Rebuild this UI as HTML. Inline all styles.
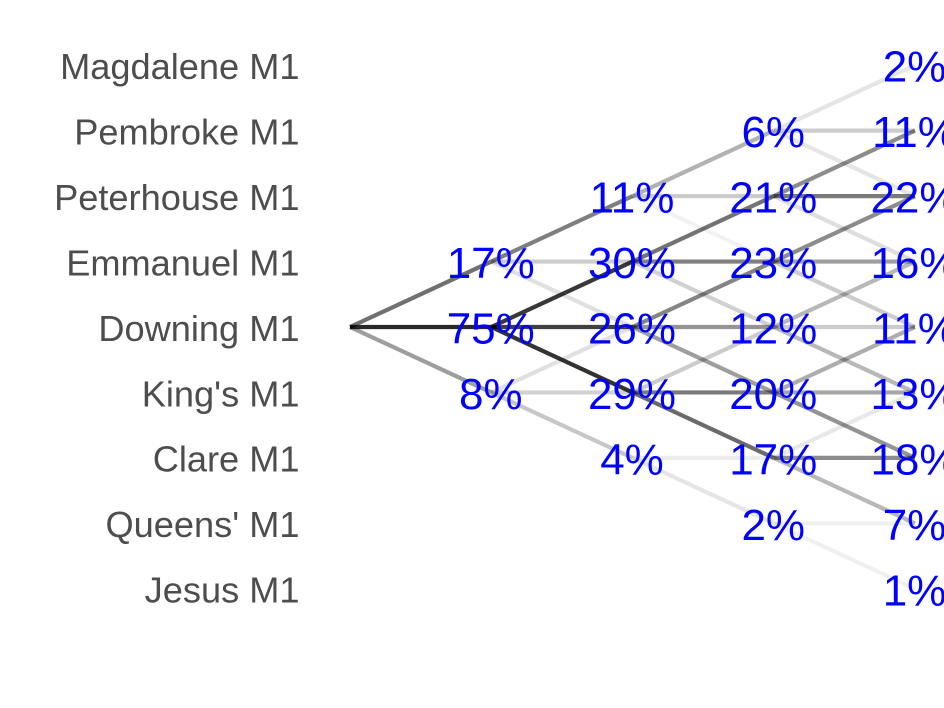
<!DOCTYPE html>
<html lang="en">
<head>
<meta charset="utf-8">
<title>Bumps forecast tree</title>
<style>
html,body{margin:0;padding:0;background:#fff;width:944px;height:708px;overflow:hidden}
svg{display:block;font-family:"Liberation Sans",Arial,sans-serif}
</style>
</head>
<body>
<svg id="chart" xmlns="http://www.w3.org/2000/svg" width="944" height="708" viewBox="0 0 944 708">
<rect width="944" height="708" fill="#ffffff"/>
<g id="edges"></g>
<g id="axis"></g>
<g id="values"></g>
</svg>
<script>
const crews = ["Magdalene M1","Pembroke M1","Peterhouse M1","Emmanuel M1","Downing M1","King's M1","Clare M1","Queens' M1","Jesus M1"];

// Printed chance per crew at each stage (null: no node)
const stage1Pct = [null,null,null,17,75,8,null,null,null];
const stage2Pct = [null,null,11,30,26,29,4,null,null];
const stage3Pct = [null,6,21,23,12,20,17,2,null];
const stage4Pct = [2,11,22,16,11,13,18,7,1];

// Edge strength (0-1 darkness) leaving each crew row: one place up, same place, one place down
const step0Up   = [0,0,0,0,.56,0,0,0,0];
const step0Same = [0,0,0,0,.84,0,0,0,0];
const step0Down = [0,0,0,0,.38,0,0,0,0];

const step1Up   = [0,0,0,.5,.78,.12,0,0,0];
const step1Same = [0,0,0,.2,.75,.18,0,0,0];
const step1Down = [0,0,0,.12,.8,.22,0,0,0];

const step2Up   = [0,0,.3,.55,.48,.2,0,0,0];
const step2Same = [0,0,.2,.5,.42,.52,.07,0,0];
const step2Down = [0,0,.05,.18,.38,.58,.1,0,0];

const step3Up   = [0,.1,.45,.45,.28,.32,.09,0,0];
const step3Same = [0,.2,.52,.38,.2,.35,.45,.06,0];
const step3Down = [0,.1,.13,.2,.28,.42,.28,.06,0];

const stageValues = [stage1Pct,stage2Pct,stage3Pct,stage4Pct];
const stepUp = [step0Up,step1Up,step2Up,step3Up];
const stepSame = [step0Same,step1Same,step2Same,step3Same];
const stepDown = [step0Down,step1Down,step2Down,step3Down];

const NS = "http://www.w3.org/2000/svg";
const stageAxis = s => 350 + s * 141.25;
const crewAxis = r => 327 - (4 - r) * 65.45;

const edgeLayer = document.getElementById("edges");
const axisLayer = document.getElementById("axis");
const valueLayer = document.getElementById("values");

function drawEdge(stage, fromRow, toRow, strength) {
  if (!strength) return;
  const el = document.createElementNS(NS, "line");
  
  
  el.setAttribute("x1", stageAxis(stage));
  el.setAttribute("y1", crewAxis(fromRow));
  el.setAttribute("x2", stageAxis(stage + 1));
  el.setAttribute("y2", crewAxis(toRow));
  el.setAttribute("stroke", "#000");
  el.setAttribute("stroke-opacity", strength);
  el.setAttribute("stroke-width", "4.2");
  edgeLayer.appendChild(el);
}

stepUp.forEach((up, s) => {
  crews.forEach((c, r) => {
    drawEdge(s, r, r - 1, up[r]);
    drawEdge(s, r, r, stepSame[s][r]);
    drawEdge(s, r, r + 1, stepDown[s][r]);
  });
});

crews.forEach((name, r) => {
  const el = document.createElementNS(NS, "text");
  
  
  el.setAttribute("x", 299.5);
  el.setAttribute("y", crewAxis(r) + 13.8);
  el.setAttribute("text-anchor", "end");
  el.setAttribute("font-size", "36.2");
  el.setAttribute("fill", "#4d4d4d");
  el.textContent = name;
  axisLayer.appendChild(el);
});

stageValues.forEach((vals, s) => {
  vals.forEach((v, r) => {
    if (v === null) return;
    const el = document.createElementNS(NS, "text");
    
    
    el.setAttribute("x", stageAxis(s + 1) - 0.5);
    el.setAttribute("y", crewAxis(r) + 16.5);
    el.setAttribute("text-anchor", "middle");
    el.setAttribute("font-size", "44");
    el.setAttribute("fill", "#0000ff");
    el.textContent = v + "%";
    valueLayer.appendChild(el);
  });
});
</script>
</body>
</html>
